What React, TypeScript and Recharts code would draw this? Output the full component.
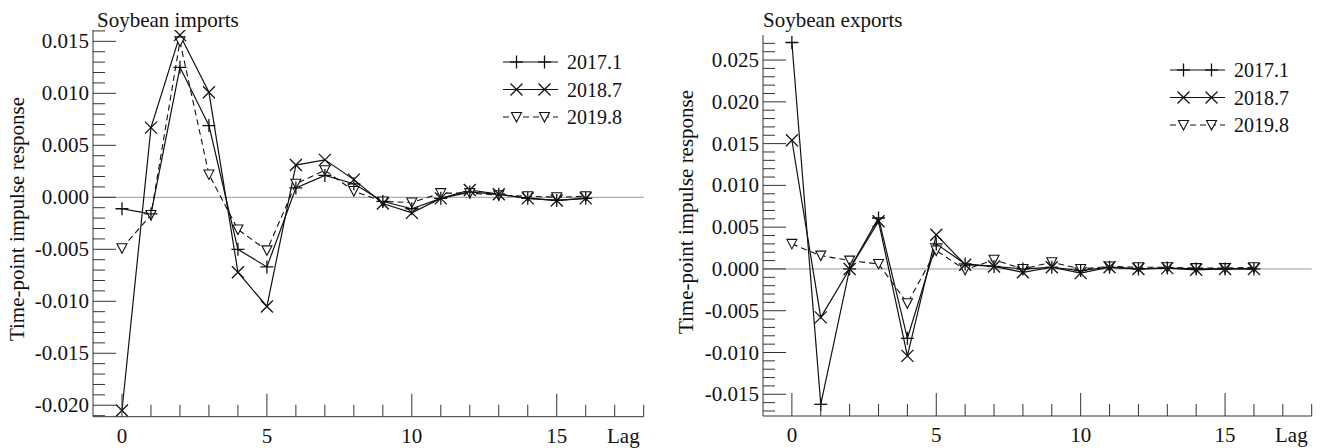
import React from 'react';
import { LineChart, Line, XAxis, YAxis, ReferenceLine, Legend } from 'recharts';

// lags 0..16
const LAGS = [0, 1, 2, 3, 4, 5, 6, 7, 8, 9, 10, 11, 12, 13, 14, 15, 16];
const SERIES = ['2017.1', '2018.7', '2019.8'];

// Soybean imports
const IMPORTS_2017_1 = [-0.0011, -0.0016, 0.0125, 0.0069, -0.005, -0.0067, 0.0009, 0.0021, 0.0013, -0.0004, -0.0011, -0.0001, 0.0005, 0.0003, -0.0001, -0.0003, -0.0001];
const IMPORTS_2018_7 = [-0.0205, 0.0067, 0.0156, 0.0101, -0.0072, -0.0105, 0.0031, 0.0036, 0.0017, -0.0006, -0.0015, -0.0001, 0.0007, 0.0003, -0.0001, -0.0003, -0.0001];
const IMPORTS_2019_8 = [-0.0049, -0.0017, 0.015, 0.0022, -0.0031, -0.0051, 0.0013, 0.0026, 0.0006, -0.0004, -0.0005, 0.0004, 0.0004, 0.0002, 0.0001, 0.0, 0.0001];

// Soybean exports
const EXPORTS_2017_1 = [0.0271, -0.0162, 0.0, 0.0061, -0.0083, 0.003, 0.0006, 0.0003, 0.0, 0.0002, -0.0002, 0.0002, 0.0, 0.0001, 0.0, 0.0, 0.0];
const EXPORTS_2018_7 = [0.0154, -0.0058, 0.0, 0.0057, -0.0104, 0.0041, 0.0005, 0.0003, -0.0004, 0.0002, -0.0005, 0.0002, 0.0, 0.0001, -0.0001, 0.0, 0.0];
const EXPORTS_2019_8 = [0.003, 0.0016, 0.001, 0.0006, -0.0041, 0.0022, -0.0001, 0.0011, 0.0, 0.0008, 0.0, 0.0003, 0.0002, 0.0002, 0.0001, 0.0001, 0.0002];

const X_TICKS = [0, 1, 2, 3, 4, 5, 6, 7, 8, 9, 10, 11, 12, 13, 14, 15, 16, 17, 18];
const X_LABELS = [0, 5, 10, 15];

const FONT = '"Liberation Serif", "Times New Roman", serif';
const INK = '#111';

// minor ticks every 0.001
const thousandths = (from: number, to: number) => {
  const out: number[] = [];
  for (let i = from; i <= to; i++) out.push(i / 1000);
  return out;
};
const IMPORT_Y_TICKS = thousandths(-21, 16);
const EXPORT_Y_TICKS = thousandths(-17, 27);

const toRows = (a: number[], b: number[], c: number[]) =>
  LAGS.map((lag, i) => ({ lag, s1: a[i], s2: b[i], s3: c[i] }));

const importRows = toRows(IMPORTS_2017_1, IMPORTS_2018_7, IMPORTS_2019_8);
const exportRows = toRows(EXPORTS_2017_1, EXPORTS_2018_7, EXPORTS_2019_8);

// markers
const Plus = ({ cx, cy }: { cx: number; cy: number }) => (
  <g stroke={INK} strokeWidth={1.3}>
    <line x1={cx - 6.5} x2={cx + 6.5} y1={cy} y2={cy} />
    <line x1={cx} x2={cx} y1={cy - 6.5} y2={cy + 6.5} />
  </g>
);
const Cross = ({ cx, cy }: { cx: number; cy: number }) => (
  <g stroke={INK} strokeWidth={1.3}>
    <line x1={cx - 6} x2={cx + 6} y1={cy - 6} y2={cy + 6} />
    <line x1={cx - 6} x2={cx + 6} y1={cy + 6} y2={cy - 6} />
  </g>
);
const Tri = ({ cx, cy }: { cx: number; cy: number }) => (
  <path d={`M${cx - 5},${cy - 4.5} L${cx + 5},${cy - 4.5} L${cx},${cy + 5} Z`} fill="#fff" stroke={INK} strokeWidth={1.1} />
);
const MARKERS = [Plus, Cross, Tri];

const dotFor = (k: number) => (p: any) => {
  const M = MARKERS[k];
  if (p.cx == null || p.cy == null) return <g key={`d${k}-${p.index}`} />;
  return <g key={`d${k}-${p.index}`}><M cx={p.cx} cy={p.cy} /></g>;
};

const XTick = (props: any) => {
  const { x, y, payload } = props;
  const v = payload.value;
  const major = v % 5 === 0;
  return (
    <g>
      <line x1={x} x2={x} y1={y} y2={y - (major ? 23 : 12)} stroke="#333" strokeWidth={1} />
      {X_LABELS.includes(v) && (
        <text x={x} y={y + 26} textAnchor="middle" fontFamily={FONT} fontSize={21} fill={INK}>{v}</text>
      )}
      {v === 18 && (
        <text x={x - 4} y={y + 26} textAnchor="end" fontFamily={FONT} fontSize={21} fill={INK}>Lag</text>
      )}
    </g>
  );
};

const YTick = (props: any) => {
  const { x, y, payload } = props;
  const v = payload.value;
  const r = v / 0.005;
  const major = Math.abs(r - Math.round(r)) < 1e-6;
  const label = Math.abs(v) < 1e-9 ? '0.000' : v.toFixed(3);
  return (
    <g>
      <line x1={x} x2={x + (major ? 23 : 12)} y1={y} y2={y} stroke="#333" strokeWidth={1} />
      {major && (
        <text x={x - 4} y={y + 7} textAnchor="end" fontFamily={FONT} fontSize={21} fill={INK}>{label}</text>
      )}
    </g>
  );
};

const LegendBox = () => (
  <svg width={160} height={86} style={{ display: 'block' }}>
    {SERIES.map((name, k) => {
      const cy = 14 + k * 27.5;
      const M = MARKERS[k];
      return (
        <g key={name}>
          <line x1={3} x2={58} y1={cy} y2={cy} stroke={INK} strokeWidth={1.2} strokeDasharray={k === 2 ? '6 4' : undefined} />
          <M cx={16.5} cy={cy} />
          <M cx={44.5} cy={cy} />
          <text x={67} y={cy + 7} fontFamily={FONT} fontSize={20} fill={INK}>{name}</text>
        </g>
      );
    })}
  </svg>
);

interface PanelProps {
  rows: any[];
  width: number;
  margin: { top: number; right: number; bottom: number; left: number };
  domain: [number, number];
  yTicks: number[];
  legendPos: { left: number; top: number };
}

const Panel = ({ rows, width, margin, domain, yTicks, legendPos }: PanelProps) => (
  <LineChart width={width} height={448} data={rows} margin={margin}>
    <XAxis
      dataKey="lag"
      type="number"
      domain={[-1, 18]}
      ticks={X_TICKS}
      interval={0}
      height={1}
      tickSize={0}
      tickMargin={0}
      tick={<XTick />}
      axisLine={{ stroke: '#333', strokeWidth: 1 }}
      allowDataOverflow
    />
    <YAxis
      type="number"
      domain={domain}
      ticks={yTicks}
      interval={0}
      width={1}
      tickSize={0}
      tickMargin={0}
      tick={<YTick />}
      axisLine={{ stroke: '#333', strokeWidth: 1 }}
      allowDataOverflow
    />
    <ReferenceLine y={0} stroke="#999" strokeWidth={1} />
    <Legend
      layout="horizontal"
      verticalAlign="middle"
      align="center"
      content={() => <LegendBox />}
      wrapperStyle={{ left: legendPos.left, top: legendPos.top, width: 160, height: 86 }}
    />
    <Line dataKey="s3" name={SERIES[2]} stroke={INK} strokeWidth={1.1} strokeDasharray="6 4" dot={dotFor(2)} activeDot={false} isAnimationActive={false} />
    <Line dataKey="s1" name={SERIES[0]} stroke={INK} strokeWidth={1.2} dot={dotFor(0)} activeDot={false} isAnimationActive={false} />
    <Line dataKey="s2" name={SERIES[1]} stroke={INK} strokeWidth={1.2} dot={dotFor(1)} activeDot={false} isAnimationActive={false} />
  </LineChart>
);

const txt = { fontFamily: FONT, fontSize: 21, fill: INK } as const;

export default function App() {
  return (
    <div style={{ position: 'absolute', left: 0, top: 0, width: 1323, height: 448, background: '#fff', overflow: 'hidden' }}>
      <div style={{ position: 'absolute', left: 0, top: 0 }}>
        <Panel
          rows={importRows}
          width={660}
          margin={{ top: 30, right: 16.3, bottom: 30.3, left: 92 }}
          domain={[-0.0211, 0.01609]}
          yTicks={IMPORT_Y_TICKS}
          legendPos={{ left: 500, top: 48 }}
        />
      </div>
      <div style={{ position: 'absolute', left: 670, top: 0 }}>
        <Panel
          rows={exportRows}
          width={653}
          margin={{ top: 35, right: 11.3, bottom: 31, left: 92 }}
          domain={[-0.0176, 0.028]}
          yTicks={EXPORT_Y_TICKS}
          legendPos={{ left: 497, top: 56 }}
        />
      </div>
      <svg width={1323} height={448} style={{ position: 'absolute', left: 0, top: 0, pointerEvents: 'none' }}>
        <text x={97} y={27} {...txt}>Soybean imports</text>
        <text x={763} y={27} {...txt}>Soybean exports</text>
        <text transform="translate(24,219) rotate(-90)" textAnchor="middle" {...txt}>Time-point impulse response</text>
        <text transform="translate(693,212) rotate(-90)" textAnchor="middle" {...txt}>Time-point impulse response</text>
      </svg>
    </div>
  );
}
